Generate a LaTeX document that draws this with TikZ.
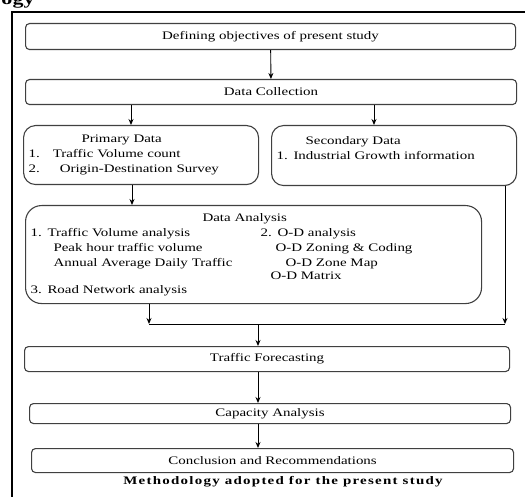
\documentclass[tikz,border=0pt]{standalone}
\usepackage{fontspec}
\setmainfont{Liberation Serif}[FakeStretch=1.3]
\newfontfamily\captionfont{Liberation Serif}[FakeStretch=1.3,LetterSpace=11]
\usetikzlibrary{arrows.meta,positioning}

\begin{document}
\begin{tikzpicture}[x=1pt,y=-1pt,thick,
	box/.style={draw=black!75,line width=1.1pt,rounded corners=4pt,anchor=north west,inner sep=0pt,align=center,font=\fontsize{11.5}{15}\selectfont},
	list box/.style={box,rounded corners=12pt,align=left,inner xsep=5pt},
	flow/.style={-{Stealth[length=6pt,width=5pt]},line width=0.9pt},
	busline/.style={line width=0.9pt}]
\useasboundingbox (0,0) rectangle (525,497);
\begin{scope}
\clip (0,0) rectangle (525,497);
% heading running off the page
\node[anchor=base east,inner sep=0pt,font=\bfseries\fontsize{17}{20}\selectfont] (head) at (35,5) {ogy};
% frame
\draw[line width=2.2pt] (525,12) -- (12,12) -- (12,497);
\end{scope}

\node[box,minimum width=490pt,minimum height=26pt] (obj) at (25,23) {Defining objectives of present study};
\node[box,minimum width=491pt,minimum height=25pt] (coll) at (25,79) {Data Collection};
\node[list box,minimum width=235pt,minimum height=59pt,text width=225pt] (prim) at (23,125)
	{\hspace*{53pt}Primary Data\\
	1.\hspace{13pt}Traffic Volume count\\
	2.\hspace{20pt}Origin-Destination Survey};
\node[list box,minimum width=245pt,minimum height=60pt,text width=235pt,text depth=30pt] (sec) at (271,125)
	{\hspace*{29pt}Secondary Data\\
	1. Industrial Growth information};
\node[list box,rounded corners=16pt,minimum width=456pt,minimum height=98pt,text width=446pt] (ana) at (25,205)
	{\hspace*{172pt}Data Analysis\\
	\makebox[230pt][l]{1. Traffic Volume analysis}2. O-D analysis\\
	\makebox[230pt][l]{\hspace*{23pt}Peak hour traffic volume}\hspace*{15pt}O-D Zoning \& Coding\\
	\makebox[230pt][l]{\hspace*{23pt}Annual Average Daily Traffic}\hspace*{25pt}O-D Zone Map\\[-2pt]
	\makebox[230pt][l]{}\hspace*{10pt}O-D Matrix\\[-1pt]
	3. Road Network analysis};
\node[box,minimum width=485pt,minimum height=25pt] (fore) at (24,346) {Traffic Forecasting};
\node[box,minimum width=481pt,minimum height=20pt] (cap) at (29,403) {Capacity Analysis};
\node[box,minimum width=482pt,minimum height=24pt] (conc) at (31,448) {Conclusion and Recommendations};
\node[font=\captionfont\bfseries\fontsize{11.5}{14}\selectfont] (title) at (283,482) {Methodology adopted for the present study};

% links
\draw[flow] (obj) -- (coll);
\draw[flow] (coll.south -| 131,0) -- (prim.north -| 131,0);
\draw[flow] (coll.south -| 374,0) -- (sec.north -| 374,0);
\draw[flow] (prim.south -| 132,0) -- (ana.north -| 132,0);
\draw[flow] (ana.south -| 149,0) -- (149,324);
\draw[flow] (sec.south -| 505,0) -- (505,324);
\draw[busline] (149,324) -- (505,324);
\draw[flow] (258,324) -- (fore.north -| 258,0);
\draw[flow] (fore.south -| 258,0) -- (cap.north -| 258,0);
\draw[flow] (cap.south -| 258,0) -- (conc.north -| 258,0);
\end{tikzpicture}
\end{document}
